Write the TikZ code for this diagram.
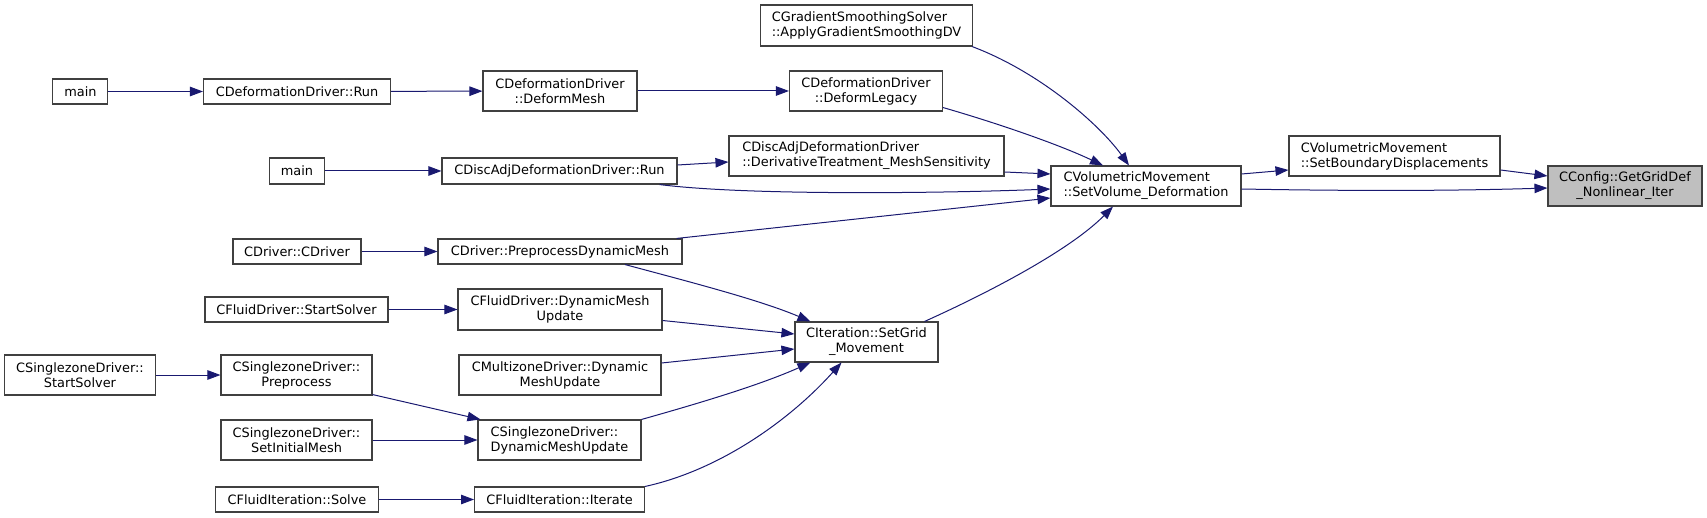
\documentclass[tikz,border=0pt]{standalone}
\usepackage{fontspec}
\setmainfont{DejaVu Sans}
\usetikzlibrary{arrows.meta}
\definecolor{edgeblue}{HTML}{191970}
\definecolor{boxline}{HTML}{404040}
\definecolor{rootfill}{HTML}{BFBFBF}
\begin{document}
\begin{tikzpicture}[x=1pt,y=-1pt,
  fn/.style={draw=boxline,line width=1.1pt,fill=white,inner sep=0pt,align=center,
     font=\fontsize{12.9}{15}\selectfont},
  fnl/.style={fn,align=left},
  call/.style={draw=edgeblue,line width=1pt,-{Triangle[length=13pt,width=9.5pt]}}]
\useasboundingbox (0,0) rectangle (1707,518);
% nodes
\node[fn,minimum width=55pt,minimum height=25pt] (m1) at (80.4,91.5) {main};
\node[fn,minimum width=187pt,minimum height=25pt] (dRun) at (297,91.5) {CDeformationDriver::Run};
\node[fn,minimum width=154pt,minimum height=40pt] (dMesh) at (560,91) {CDeformationDriver\\::DeformMesh};
\node[fn,minimum width=153pt,minimum height=40pt] (dLegacy) at (866,91) {CDeformationDriver\\::DeformLegacy};
\node[fnl,minimum width=212pt,minimum height=41pt] (grad) at (866.5,25.5) {CGradientSmoothingSolver\\::ApplyGradientSmoothingDV};
\node[fn,minimum width=55pt,minimum height=26pt] (m2) at (297,171) {main};
\node[fn,minimum width=235pt,minimum height=26pt] (daRun) at (559.5,171) {CDiscAdjDeformationDriver::Run};
\node[fnl,minimum width=275pt,minimum height=40pt] (deriv) at (866.5,156) {CDiscAdjDeformationDriver\\::DerivativeTreatment\_MeshSensitivity};
\node[fnl,minimum width=190pt,minimum height=40pt] (setVol) at (1146,186) {CVolumetricMovement\\::SetVolume\_Deformation};
\node[fnl,minimum width=211pt,minimum height=40pt] (setBnd) at (1394.5,156) {CVolumetricMovement\\::SetBoundaryDisplacements};
\node[fn,fill=rootfill,minimum width=154pt,minimum height=40pt] (cfg) at (1625,186) {CConfig::GetGridDef\\\_Nonlinear\_Iter};
\node[fn,minimum width=128pt,minimum height=25pt] (cdrv) at (297,251.5) {CDriver::CDriver};
\node[fn,minimum width=244pt,minimum height=25pt] (prep) at (560,251.5) {CDriver::PreprocessDynamicMesh};
\node[fn,minimum width=183pt,minimum height=25pt] (fss) at (296.5,309.5) {CFluidDriver::StartSolver};
\node[fn,minimum width=204pt,minimum height=41pt] (fdmu) at (560,309.5) {CFluidDriver::DynamicMesh\\Update};
\node[fn,minimum width=143pt,minimum height=40pt] (grid) at (866.5,342) {CIteration::SetGrid\\\_Movement};
\node[fn,minimum width=202pt,minimum height=40pt] (mz) at (560,375) {CMultizoneDriver::Dynamic\\MeshUpdate};
\node[fn,minimum width=151pt,minimum height=40pt] (sss) at (80,375) {CSinglezoneDriver::\\StartSolver};
\node[fn,minimum width=151pt,minimum height=40pt] (spre) at (296.5,375) {CSinglezoneDriver::\\Preprocess};
\node[fn,minimum width=151pt,minimum height=40pt] (sinit) at (296.5,440) {CSinglezoneDriver::\\SetInitialMesh};
\node[fnl,minimum width=163pt,minimum height=40pt] (sdmu) at (559.5,440) {CSinglezoneDriver::\\DynamicMeshUpdate};
\node[fn,minimum width=163pt,minimum height=25pt] (fsolve) at (297,499.5) {CFluidIteration::Solve};
\node[fn,minimum width=170pt,minimum height=25pt] (fiter) at (559.6,499.5) {CFluidIteration::Iterate};
% edges
\draw[call] (m1) -- (dRun);
\draw[call] (dRun) -- (dMesh);
\draw[call] (dMesh) -- (dLegacy);
\draw[call] ([yshift=4pt]dLegacy.south east) .. controls (1000,124) and (1060,145) .. ([xshift=-43pt]setVol.north);
\draw[call] ([xshift=-1pt]grad.south east) .. controls (1040,72) and (1100,125) .. ([xshift=-17pt]setVol.north);
\draw[call] (m2) -- (daRun);
\draw[call] ([yshift=6pt]daRun.east) -- ([yshift=-6pt]deriv.west);
\draw[call] ([xshift=-18pt]daRun.south east) .. controls (750,196) and (950,193) .. ([yshift=-3pt]setVol.west);
\draw[call] ([yshift=-16pt]deriv.east) -- ([yshift=12pt]setVol.west);
\draw[call] ([yshift=12pt]setVol.east) -- ([yshift=-14pt]setBnd.west);
\draw[call] ([yshift=-3pt]setVol.east) .. controls (1350,191) and (1450,191) .. ([yshift=-2pt]cfg.west);
\draw[call] ([yshift=-14pt]setBnd.east) -- ([yshift=10pt]cfg.west);
\draw[call] (cdrv) -- (prep);
\draw[call] ([xshift=-6pt]prep.north east) -- ([yshift=-12pt]setVol.west);
\draw[call] ([xshift=65pt]prep.south) .. controls (690,282) and (760,300) .. ([xshift=16pt]grid.north west);
\draw[call] (fss) -- (fdmu);
\draw[call] ([yshift=-11pt]fdmu.east) -- ([yshift=8pt]grid.west);
\draw[call] ([yshift=12pt]mz.east) -- ([yshift=-7pt]grid.west);
\draw[call] (sss) -- (spre);
\draw[call] ([yshift=1pt]spre.south east) -- ([xshift=3pt]sdmu.north west);
\draw[call] (sinit) -- (sdmu);
\draw[call] (sdmu.north east) .. controls (700,403) and (760,385) .. ([xshift=16pt]grid.south west);
\draw[call] (fsolve) -- (fiter);
\draw[call] (fiter.north east) .. controls (720,470) and (790,420) .. ([xshift=-25pt]grid.south);
\draw[call] ([xshift=-14pt]grid.north east) .. controls (990,292) and (1070,250) .. ([xshift=-33pt]setVol.south);
\end{tikzpicture}
\end{document}
